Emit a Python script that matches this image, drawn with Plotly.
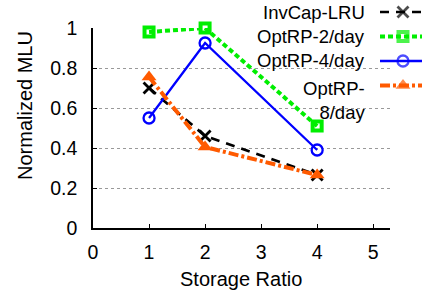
import plotly.graph_objects as go

# ---- data ----
storage_ratio = [1, 2, 4]
invcap_lru = [0.70, 0.46, 0.265]
optrp_2 = [0.98, 1.00, 0.51]
optrp_4 = [0.55, 0.925, 0.39]
optrp_8 = [0.755, 0.405, 0.265]
series_names = ["InvCap-LRU", "OptRP-2/day", "OptRP-4/day", "OptRP-<br>8/day"]
x_ticks = [0, 1, 2, 3, 4, 5]
y_ticks = [0, 0.2, 0.4, 0.6, 0.8, 1]

W, H = 432, 295
FONT = "Liberation Sans, Arial, Helvetica, sans-serif"

def px(x):
    return x / W

def py(y):
    return 1 - y / H

styles = [
    dict(line=dict(color="black", width=2.7, dash="9px,7px"),
         marker=dict(symbol="x-thin-open", size=11, line=dict(color="black", width=2.8))),
    dict(line=dict(color="#00ee00", width=4, dash="5px,3px"),
         marker=dict(symbol="square-open", size=9, color="#00ee00", line=dict(color="#00ee00", width=4))),
    dict(line=dict(color="#0000ff", width=2.3),
         marker=dict(symbol="circle-open", size=11, color="#0000ff", line=dict(color="#0000ff", width=2.3))),
    dict(line=dict(color="#ff5a00", width=4, dash="10px,3px,3px,3px"),
         marker=dict(symbol="triangle-up", size=13, color="#ff5a00", line=dict(width=0))),
]
values = [invcap_lru, optrp_2, optrp_4, optrp_8]

fig = go.Figure()
for name, vals, st in zip(series_names, values, styles):
    fig.add_trace(go.Scatter(x=storage_ratio, y=vals, mode="lines+markers",
                             name=name, line=st["line"], marker=st["marker"],
                             cliponaxis=False, showlegend=False))

# ---- manual legend (symbols on the right, as in the reference) ----
LEG_FONT = dict(size=18.5, family=FONT, color="black")
row_y = [12, 36.5, 61, 85.5]
for name, st, ry in zip(series_names, styles, row_y):
    m = dict(st["marker"])
    fig.add_trace(go.Scatter(x=[380, 403, 422], y=[ry, ry, ry], mode="lines+markers",
                             line=st["line"], marker=dict(m, size=[0, m["size"], 0]),
                             xaxis="x2", yaxis="y2", showlegend=False, cliponaxis=False,
                             hoverinfo="skip"))
    if "<br>" in name:
        fig.add_annotation(x=px(367), y=py(ry - 10), xref="paper", yref="paper",
                           text=name, showarrow=False, xanchor="right", yanchor="top",
                           align="right", font=LEG_FONT)
    else:
        fig.add_annotation(x=px(367), y=py(ry), xref="paper", yref="paper",
                           text=name, showarrow=False, xanchor="right", yanchor="middle",
                           align="right", font=LEG_FONT)

# opaque legend box over the gridlines (below the data)
fig.add_shape(type="rect", xref="paper", yref="paper", x0=px(222), x1=1, y0=py(100), y1=1,
              fillcolor="white", line=dict(width=0), layer="between")

# axis titles
TITLE_FONT = dict(size=20, family=FONT, color="black")
fig.add_annotation(x=px(241), y=py(279), xref="paper", yref="paper", text="Storage Ratio",
                   showarrow=False, xanchor="center", yanchor="middle", font=TITLE_FONT)
fig.add_annotation(x=px(25), y=py(106), xref="paper", yref="paper", text="Normalized MLU",
                   showarrow=False, textangle=-90, xanchor="center", yanchor="middle",
                   font=TITLE_FONT)

fig.update_layout(
    width=W, height=H, autosize=False,
    margin=dict(l=0, r=0, t=0, b=0),
    paper_bgcolor="white", plot_bgcolor="rgba(0,0,0,0)",
    font=dict(family=FONT, size=20, color="black"),
    xaxis=dict(domain=[px(93), px(390)], range=[0, 5.3], tickvals=x_ticks,
               ticktext=[str(v) for v in x_ticks], showgrid=False, zeroline=False,
               showline=True, linecolor="black", linewidth=1.5, ticks="inside",
               ticklen=4, tickcolor="black", tickwidth=1, automargin=False,
               ticklabelstandoff=6, tickfont=dict(size=19.5)),
    yaxis=dict(domain=[py(228), py(28)], range=[0, 1], tickvals=y_ticks,
               ticktext=["0", "0.2", "0.4", "0.6", "0.8", "1"], showgrid=True,
               gridcolor="#999999", griddash="dot", gridwidth=1, zeroline=False,
               showline=True, linecolor="black", linewidth=1.5, ticks="inside",
               ticklen=4, tickcolor="black", tickwidth=1, automargin=False,
               ticklabelstandoff=10, tickfont=dict(size=19.5)),
    xaxis2=dict(domain=[0, 1], range=[0, W], visible=False, anchor="y2"),
    yaxis2=dict(domain=[0, 1], range=[H, 0], visible=False, anchor="x2"),
    showlegend=False,
)

fig.write_html("out.html", config={"displayModeBar": False},
               post_script="document.body.style.margin='0';")
